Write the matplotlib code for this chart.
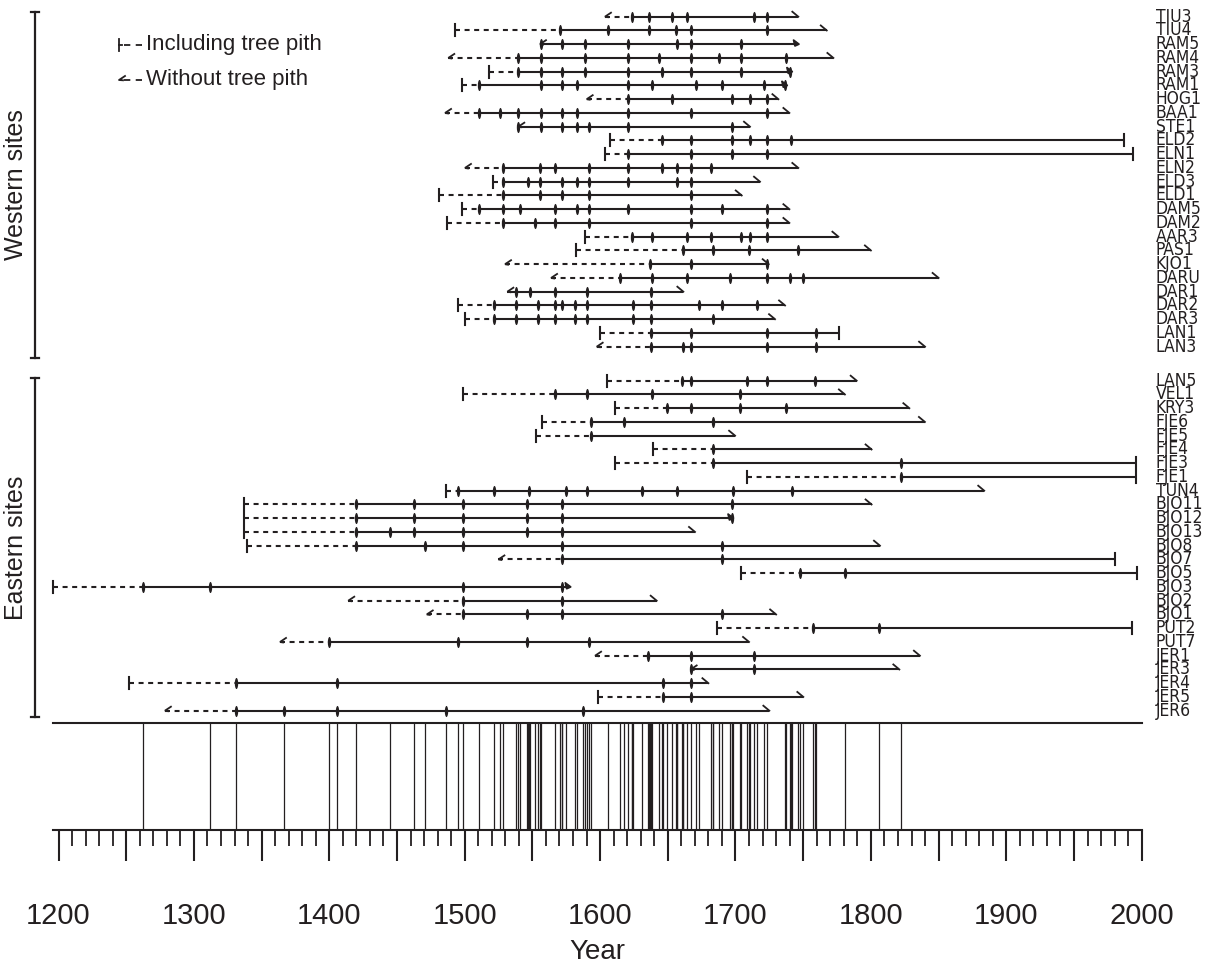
import matplotlib
matplotlib.use('Agg')
import matplotlib.pyplot as plt
import numpy as np
from matplotlib.path import Path
from matplotlib.markers import MarkerStyle
from matplotlib.transforms import Affine2D
from matplotlib.patches import Polygon
from matplotlib import font_manager

# ---------------- data ----------------
# each row: name, start type (p = pith, n = no pith), start year, first dated year,
#           event years, end year, end type (h = hook, b = bark bar, a = arrow)
west_names = ["TIU3", "TIU4", "RAM5", "RAM4", "RAM3", "RAM1", "HOG1", "BAA1", "STE1",
              "ELD2", "ELN1", "ELN2", "ELD3", "ELD1", "DAM5", "DAM2", "AAR3", "PAS1",
              "KJO1", "DARU", "DAR1", "DAR2", "DAR3", "LAN1", "LAN3"]
west_start_type = ["n", "p", "n", "n", "p", "p", "n", "n", "n", "p", "p", "n", "p", "p",
                   "p", "p", "p", "p", "n", "n", "n", "p", "p", "p", "n"]
west_start = [1603.6, 1492.9, 1555.6, 1487.9, 1518.2, 1497.8, 1590.1, 1485.5, 1539.6,
              1607.3, 1603.6, 1500.2, 1520.7, 1481.3, 1497.8, 1486.7, 1588.9, 1582.2,
              1529.8, 1563.8, 1531.5, 1495.3, 1500.2, 1599.9, 1597.5]
west_dated = [1623.3, 1570.4, 1555.6, 1539.6, 1539.6, 1510.8, 1620.9, 1510.8, 1539.6,
              1646.0, 1620.9, 1528.5, 1528.5, 1528.5, 1510.8, 1528.5, 1623.8, 1661.5,
              1636.9, 1614.7, 1531.5, 1521.7, 1521.7, 1637.4, 1637.4]
west_events = [
    [1623.3, 1636.4, 1653.4, 1664.0, 1714.0, 1723.0],
    [1570.4, 1606.1, 1636.4, 1656.1, 1666.9, 1723.0],
    [1556.1, 1572.1, 1588.6, 1620.9, 1657.1, 1666.9, 1704.1],
    [1539.6, 1556.1, 1588.6, 1620.9, 1643.8, 1666.9, 1687.8, 1704.1, 1737.1],
    [1539.6, 1556.1, 1572.1, 1588.6, 1620.9, 1646.0, 1666.9, 1704.1, 1740.3],
    [1510.8, 1556.1, 1572.1, 1582.7, 1620.9, 1638.1, 1670.9, 1689.8, 1721.1, 1736.6],
    [1620.9, 1653.4, 1697.7, 1710.7, 1723.0],
    [1510.8, 1526.1, 1539.6, 1556.1, 1572.1, 1582.7, 1620.9, 1666.9, 1723.0],
    [1539.6, 1556.1, 1572.1, 1582.7, 1592.1, 1620.9, 1697.2],
    [1646.0, 1666.9, 1697.2, 1710.7, 1723.0, 1740.8],
    [1620.9, 1666.9, 1697.2, 1723.0],
    [1528.5, 1555.6, 1566.7, 1592.1, 1620.9, 1646.0, 1657.1, 1666.9, 1681.9],
    [1528.5, 1546.5, 1555.6, 1572.1, 1582.7, 1592.1, 1620.9, 1657.1, 1666.9],
    [1528.5, 1555.6, 1572.1, 1592.1, 1666.9],
    [1510.8, 1528.5, 1540.9, 1566.7, 1582.7, 1592.1, 1620.9, 1666.9, 1689.8, 1723.0],
    [1528.5, 1551.9, 1566.7, 1592.1, 1666.9, 1723.0],
    [1623.8, 1638.1, 1664.0, 1681.9, 1704.1, 1710.7, 1723.0],
    [1661.5, 1683.7, 1710.0, 1745.9],
    [1636.9, 1666.9, 1723.0],
    [1614.7, 1638.1, 1664.0, 1696.0, 1723.0, 1740.3, 1750.1],
    [1537.9, 1548.2, 1566.7, 1590.1, 1637.4],
    [1521.7, 1537.9, 1553.9, 1566.7, 1571.6, 1581.7, 1590.1, 1624.6, 1637.4, 1673.3, 1689.8, 1716.1],
    [1521.7, 1537.9, 1553.9, 1566.7, 1581.7, 1590.1, 1624.6, 1637.4, 1683.7],
    [1637.4, 1666.9, 1723.0, 1759.2],
    [1637.4, 1661.0, 1666.9, 1723.0, 1759.2],
]
west_end = [1746.4, 1767.4, 1746.4, 1772.3, 1741.5, 1737.8, 1731.7, 1739.8, 1710.7,
            1987.0, 1993.6, 1746.4, 1718.1, 1704.6, 1739.8, 1739.8, 1776.0, 1800.0,
            1724.5, 1850.0, 1661.5, 1736.6, 1729.2, 1776.7, 1840.0]
west_end_type = ["h", "h", "a", "h", "a", "a", "h", "h", "h", "b", "b", "h", "h", "h",
                 "h", "h", "h", "h", "h", "h", "h", "h", "h", "b", "h"]

east_names = ["LAN5", "VEL1", "KRY3", "FJE6", "FJE5", "FJE4", "FJE3", "FJE1", "TUN4",
              "BJO11", "BJO12", "BJO13", "BJO8", "BJO7", "BJO5", "BJO3", "BJO2", "BJO1",
              "PUT2", "PUT7", "JER1", "JER3", "JER4", "JER5", "JER6"]
east_start_type = ["p", "p", "p", "p", "p", "p", "p", "p", "p", "p", "p", "p", "p", "n",
                   "p", "p", "n", "n", "p", "n", "n", "n", "p", "p", "n"]
east_start = [1604.9, 1499.0, 1611.0, 1556.9, 1552.7, 1638.8, 1611.0, 1708.3, 1486.2,
              1337.0, 1337.0, 1337.0, 1338.9, 1524.9, 1704.1, 1195.7, 1414.0, 1472.0,
              1686.1, 1363.6, 1596.3, 1666.9, 1252.3, 1598.2, 1278.6]
east_dated = [1660.8, 1566.7, 1649.2, 1593.1, 1593.1, 1683.2, 1683.2, 1822.0, 1494.8,
              1419.7, 1419.7, 1419.7, 1419.7, 1572.1, 1747.7, 1262.6, 1499.0, 1499.0,
              1756.9, 1399.5, 1635.2, 1666.9, 1331.1, 1646.7, 1331.1]
east_events = [
    [1660.8, 1666.9, 1708.3, 1723.0, 1758.7],
    [1566.7, 1590.1, 1638.1, 1703.4],
    [1649.2, 1666.9, 1703.4, 1737.1],
    [1593.1, 1617.9, 1683.2],
    [1593.1],
    [1683.2],
    [1683.2, 1822.0],
    [1822.0],
    [1494.8, 1521.7, 1547.8, 1574.8, 1590.1, 1630.7, 1656.6, 1697.9, 1742.0],
    [1419.7, 1462.5, 1499.0, 1545.8, 1572.1, 1697.2],
    [1419.7, 1462.5, 1499.0, 1545.8, 1572.1, 1697.2],
    [1419.7, 1444.8, 1462.5, 1499.0, 1545.8, 1572.1],
    [1419.7, 1471.0, 1499.0, 1572.1, 1689.8],
    [1572.1, 1689.8],
    [1747.7, 1780.8],
    [1262.6, 1311.9, 1499.0, 1572.1],
    [1499.0, 1572.1],
    [1499.0, 1545.8, 1572.1, 1689.8],
    [1756.9, 1806.0],
    [1399.5, 1494.8, 1545.8, 1592.1],
    [1635.2, 1666.9, 1714.0],
    [1666.9, 1714.0],
    [1331.1, 1405.9, 1646.7, 1666.9],
    [1646.7, 1666.9],
    [1331.1, 1366.8, 1405.9, 1486.2, 1587.1],
]
east_end = [1789.5, 1780.8, 1828.4, 1839.9, 1699.7, 1800.5, 1995.8, 1995.8, 1883.7,
            1800.5, 1698.0, 1670.1, 1806.7, 1980.3, 1996.3, 1577.8, 1641.8, 1730.0,
            1993.1, 1710.0, 1836.2, 1821.0, 1680.0, 1750.1, 1725.0]
east_end_type = ["h", "h", "h", "h", "h", "h", "b", "b", "h", "h", "a", "h", "h", "b",
                 "b", "a", "h", "h", "b", "h", "h", "h", "h", "h", "h"]

x_ticks_labelled = [1200, 1300, 1400, 1500, 1600, 1700, 1800, 1900, 2000]

# ---------------- layout ----------------
FW, FH = 1214, 967
fig = plt.figure(figsize=(FW / 100, FH / 100), dpi=100)
INK = '#231f20'
PT = 72.0 / 100.0   # points per pixel

X0, X1 = 1196, 2000
PX_PER_YR = 1.354
ax_left_px = 58.5 - (1200 - X0) * PX_PER_YR
ax_w_px = (X1 - X0) * PX_PER_YR
ROW_PX = 13.75
ROW0_PX = 16.7
TOP_AX_BOTTOM_PX = 723.0
BOT_AX_BOTTOM_PX = 830.4

ax = fig.add_axes([ax_left_px / FW, 1 - TOP_AX_BOTTOM_PX / FH, ax_w_px / FW, TOP_AX_BOTTOM_PX / FH])
axb = fig.add_axes([ax_left_px / FW, 1 - BOT_AX_BOTTOM_PX / FH, ax_w_px / FW,
                    (BOT_AX_BOTTOM_PX - TOP_AX_BOTTOM_PX) / FH])

ax.set_xlim(X0, X1)
ax.set_ylim((TOP_AX_BOTTOM_PX - ROW0_PX) / ROW_PX, -ROW0_PX / ROW_PX)
ax.axis('off')

px = 1.0 / PX_PER_YR      # one pixel in years
py = 1.0 / ROW_PX         # one pixel in row units (positive = downward)

EAST_OFFSET = (380.7 - ROW0_PX) / ROW_PX

ell = Path.unit_circle().transformed(Affine2D().scale(0.3, 1.0))
tick_marker = MarkerStyle(ell)

LW = 1.5
DASH = (0, (2.4, 2.2))


def draw_row(y, st, s, d, ev, e, et):
    if d > s:
        ax.plot([s, d], [y, y], color=INK, lw=LW, ls=DASH, solid_capstyle='butt',
                clip_on=False)
    ax.plot([d, e], [y, y], color=INK, lw=LW, solid_capstyle='butt', clip_on=False)
    if st == 'p':
        ax.plot([s, s], [y - 6 * py, y + 6 * py], color=INK, lw=LW, clip_on=False)
    else:
        ax.plot([s + 6 * px, s, s + 3 * px], [y - 4 * py, y, y + 0.5 * py], color=INK,
                lw=1.3, clip_on=False, solid_joinstyle='miter')
    if et == 'b':
        ax.plot([e, e], [y - 6 * py, y + 6 * py], color=INK, lw=LW, clip_on=False)
    elif et == 'a':
        ax.add_patch(Polygon([[e + 1 * px, y], [e - 5 * px, y - 4.5 * py], [e - 3.5 * px, y + 2 * py]],
                             closed=True, color=INK, clip_on=False))
    else:
        ax.plot([e, e - 6 * px], [y, y - 5 * py], color=INK, lw=1.3, clip_on=False)
    ax.plot(ev, [y] * len(ev), ls='none', marker=tick_marker, ms=8, color=INK, mec=INK,
            mew=0, clip_on=False)


names_avail = {f.name for f in font_manager.fontManager.ttflist}
if 'Liberation Sans Narrow' in names_avail:
    lab_font = dict(family=['Liberation Sans Narrow', 'DejaVu Sans'])
else:
    lab_font = dict(family=['DejaVu Sans'], fontstretch='condensed')

label_x = 1200 + (1156 - 58.5) / PX_PER_YR

rows = []
for i in range(len(west_names)):
    rows.append((i, west_names[i], west_start_type[i], west_start[i], west_dated[i],
                 west_events[i], west_end[i], west_end_type[i]))
for j in range(len(east_names)):
    rows.append((EAST_OFFSET + j, east_names[j], east_start_type[j], east_start[j], east_dated[j],
                 east_events[j], east_end[j], east_end_type[j]))

all_events = []
for (y, nm, st, s, d, ev, e, et) in rows:
    draw_row(y, st, s, d, ev, e, et)
    all_events.extend(ev)
    ax.text(label_x, y, nm, ha='left', va='center', fontsize=12.5, color=INK,
            clip_on=False, **lab_font)

# group brackets
xb = 1200 + (35 - 58.5) / PX_PER_YR
cap = 4 * px
for (ytop_px, ybot_px) in [(12, 358), (378, 717)]:
    r0 = (ytop_px - ROW0_PX) / ROW_PX
    r1 = (ybot_px - ROW0_PX) / ROW_PX
    ax.plot([xb, xb], [r0, r1], color=INK, lw=1.6, clip_on=False)
    ax.plot([xb - cap, xb + cap], [r0, r0], color=INK, lw=1.6, clip_on=False)
    ax.plot([xb - cap, xb + cap], [r1, r1], color=INK, lw=1.6, clip_on=False)

fig.text(16 / FW, 1 - 185 / FH, "Western sites", rotation=90, ha='center', va='center',
         fontsize=18, family='Liberation Sans', color=INK)
fig.text(16 / FW, 1 - 548 / FH, "Eastern sites", rotation=90, ha='center', va='center',
         fontsize=18, family='Liberation Sans', color=INK)

# legend
lx0 = 1200 + (119 - 58.5) / PX_PER_YR
lx1 = 1200 + (142 - 58.5) / PX_PER_YR
ltx = 1200 + (146 - 58.5) / PX_PER_YR
for ypx, kind, txt in [(45, 'p', "Including tree pith"), (80, 'n', "Without tree pith")]:
    r = (ypx - ROW0_PX) / ROW_PX
    ax.plot([lx0 + 5 * px, lx1], [r, r], color=INK, lw=1.3, ls=(0, (3.5, 3.0)), clip_on=False)
    if kind == 'p':
        ax.plot([lx0, lx0], [r - 6 * py, r + 6 * py], color=INK, lw=1.3, clip_on=False)
        ax.plot([lx0, lx0 + 3 * px], [r, r], color=INK, lw=1.3, clip_on=False)
    else:
        ax.plot([lx0 + 6 * px, lx0, lx0 + 4 * px], [r - 4 * py, r, r + 0.3 * py], color=INK,
                lw=1.3, clip_on=False)
    ax.text(ltx, r, txt, ha='left', va='center', fontsize=16, family='Liberation Sans',
            color=INK, clip_on=False)

# bottom event panel
events = sorted(set(all_events))
axb.vlines(events, 0, 1, color=INK, lw=0.9)
axb.set_xlim(X0, X1)
axb.set_ylim(0, 1)
axb.set_yticks([])
for sp in ['left', 'right']:
    axb.spines[sp].set_visible(False)
for sp in ['top', 'bottom']:
    axb.spines[sp].set_linewidth(1.5)
    axb.spines[sp].set_color(INK)
major = np.arange(1200, 2001, 50)
axb.set_xticks(major)
axb.set_xticklabels([str(int(v)) if int(v) in x_ticks_labelled else '' for v in major])
axb.set_xticks(np.arange(1200, 2001, 10), minor=True)
axb.tick_params(axis='x', which='major', length=31 * PT, width=1.5, direction='out',
                pad=41 * PT, labelsize=21, colors=INK)
axb.tick_params(axis='x', which='minor', length=16 * PT, width=1.3, direction='out', colors=INK)
for lab in axb.get_xticklabels():
    lab.set_family('Liberation Sans')

fig.text(597 / FW, 1 - 952 / FH, "Year", ha='center', va='center', fontsize=20,
         family='Liberation Sans', color=INK)

fig.savefig('out.png', dpi=100)
